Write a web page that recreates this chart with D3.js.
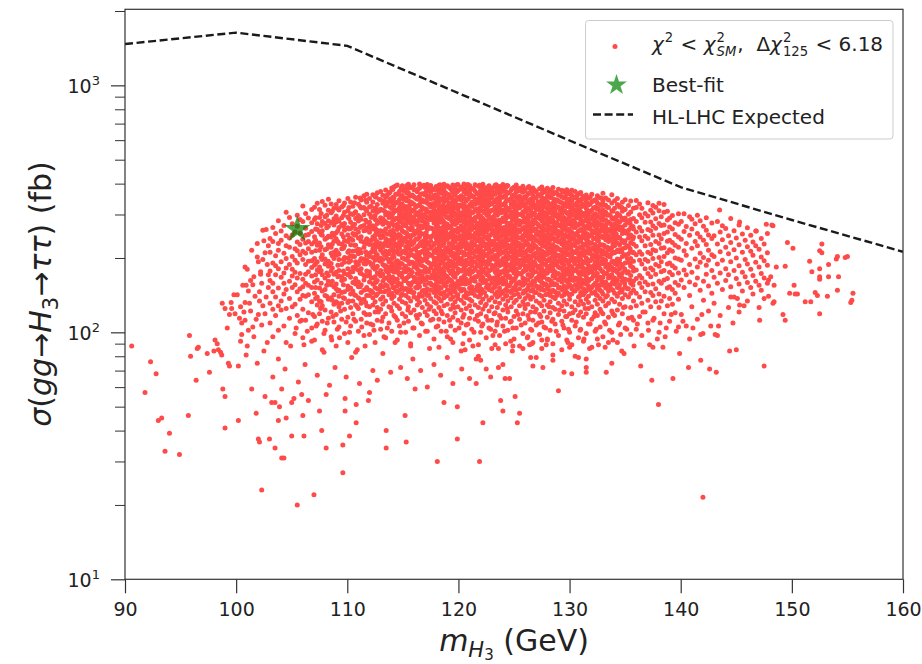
<!DOCTYPE html>
<html>
<head>
<meta charset="utf-8">
<script src="https://cdn.jsdelivr.net/npm/d3@7"></script>
<style>
body{margin:0;background:#fff;}
svg{display:block;font-family:"DejaVu Sans",sans-serif;}
text{white-space:pre;}
</style>
</head>
<body>
<script>
// HL-LHC expected limit (dashed line)
const limitMass = [90,100,110,120,130,140,150,160];
const limitXsec = [1470,1635,1445,930,598,387,285,212];

// best-fit point [m_H3 GeV, sigma fb]
const bestFit = [105.5, 261];

const xTicks = [90,100,110,120,130,140,150,160];
const yTicks = [10,100,1000];
const yTickExp = ["1","2","3"];
const yMinor = [20,30,40,50,60,70,80,90,200,300,400,500,600,700,800,900,2000];

// scan points, [mass, sigma]
const lowMassPoints = [
 [90.6,88],[91.8,57],[92.3,76],[92.8,68],[93.0,44],[93.3,45],[93.6,33],[94.0,39],[94.9,32],[95.7,46],
 [95.8,97],[95.9,80],[96.4,64],[96.5,86],[96.6,87],[97.4,82],[97.6,69],[98.1,93],[98.3,90],[98.0,84],
 [98.4,85],[98.6,83],[98.7,81],[98.8,59],[99.0,55],[99.0,41],[99.3,75],[99.4,73],[98.75,131],[99.0,125],
 [99.55,132],[99.6,125],[99.4,118],[99.9,119],[99.2,104],[99.8,142]
];
const risingEdgePoints = [
 [100.2,73],[100.2,44],[100.3,114],[100.5,109],[100.8,112],[100.6,155],[100.9,155],[100.8,132],[101.2,131],
 [100.8,184],[101.0,180],[101.9,202],[102.0,193],[102.2,176],[102.2,172],[102.7,261],[101.6,168],[101.5,156],
 [102.4,259],[101.4,59],[101.8,47],[101.9,75],[102.0,37],[102.1,36],[102.3,23],[102.6,55],[101.3,122],
 [101.7,140],[102.1,146],[102.4,128],[102.6,210],[102.5,235],[102.8,188],[101.1,102],[102.3,107],[100.1,142],
 [101.4,215],[102.9,152],[102.0,118],[100.4,92],[101.0,88],[101.6,96],[102.5,84],[100.9,81],[102.8,91],
 [100.4,127],[100.7,121],[101.1,147],[101.3,162],[101.8,113],[102.1,134],[102.3,158],[102.6,119],[102.9,171],
 [102.7,139],[100.5,98],[101.5,105],[102.4,197],[102.9,224],[101.9,229]
];
const lowTailPoints = [
 [103.0,37],[103.2,52],[103.5,52],[103.5,34],[103.8,44],[103.9,50],[104.1,31],[104.3,31],[104.1,59],[104.5,45],
 [105.0,38],[105.0,52],[105.2,54],[105.5,20],[105.9,56],[106.0,46],[106.1,38],[106.5,53],[107.0,22],[107.5,48],
 [107.7,40],[108.1,34],[108.1,56],[109.6,35],[109.6,27],[109.8,48],[109.8,54],[110.2,38],[110.8,43],[110.8,51],
 [111.9,53],[112.0,57],[113.5,40],[113.5,34],[115.2,46],[115.3,36],[116.1,59],[118.1,30],[118.7,52],[119.9,37],
 [119.9,50],[103.3,66],[103.8,78],[104.4,71],[104.9,88],[105.6,63],[106.2,74],[106.8,92],[107.3,67],[107.9,83],
 [108.4,61],[108.9,72],[109.3,95],[109.9,66],[110.4,79],[111.1,62],[111.6,88],[112.3,70],[112.7,64],[113.2,82],
 [113.9,69],[114.3,91],[114.8,72],[115.4,65],[115.9,78],[116.6,70],[117.2,60],[117.8,74],[118.4,67],[119.0,79],
 [119.5,62],[120.3,71],[120.4,90],[120.6,85],[121.0,65],[121.6,62],[121.6,78],[121.8,80],[121.9,30],[122.0,77],
 [122.2,43],[122.5,71],[122.9,66],[123.3,89],[123.6,86],[123.6,72],[123.8,53],[124.0,48],[124.0,74],[124.2,65],
 [124.6,65],[124.7,92],[124.9,88],[125.1,55],[125.3,43],[125.5,47],[125.8,86],[126.4,89],[126.6,90],[126.5,79],
 [126.7,73],[127.0,79],[127.5,93],[127.6,72],[128.0,93],[128.5,81],[128.5,77],[129.0,58],[129.5,69],[130.0,87],
 [130.2,68],[130.5,80],[130.8,79],[131.3,94],[131.5,69],[131.5,72],[131.5,78],[132.6,89],[133.2,87],[133.3,69],
 [133.5,91],[133.8,75],[134.6,98],[134.7,84],[134.9,82],[136.4,73],[137.2,89],[137.4,64],[137.5,87],[138.0,51],
 [138.4,87],[138.6,96],[139.3,65],[140.7,72],[140.8,94],[141.8,77],[141.8,98],[142.0,21.5],[143.2,69],[143.3,97],
 [144.4,84],[145.0,85],[147.5,73],[142.6,71]
];
const lowerBandPoints = [
 [105.4,104],[105.9,112],[106.4,101],[106.9,118],[107.2,106],[107.6,125],[107.9,99],[108.2,109],[108.7,116],[109.1,103],
 [109.4,122],[109.9,110],[110.2,100],[110.6,113],[110.9,127],[111.3,105],[111.7,118],[112.1,108],[112.4,102],[112.8,121],
 [113.1,111],[113.6,104],[113.9,126],[114.35,115],[114.8,100],[115.1,109],[115.45,123],[115.9,104],[116.2,117],[116.65,109],
 [117.05,101],[117.35,124],[117.7,113],[118.15,106],[118.55,119],[118.9,101],[119.2,112],[119.65,126],[120.05,104],[120.4,115],
 [120.85,108],[121.15,122],[121.4,100],[121.7,117],[122.1,106],[122.4,128],[122.65,112],[122.9,103],[123.2,119],[123.45,107],
 [123.85,114],[124.15,101],[124.4,125],[124.65,110],[124.9,104],[125.35,118],[125.65,107],[125.95,129],[126.35,113],[126.6,102],
 [126.9,121],[127.2,109],[127.4,116],[127.85,104],[128.15,127],[128.4,111],[128.8,101],[129.1,123],[129.4,107],[129.65,116],
 [129.9,103],[130.3,120],[130.6,110],[130.95,102],[131.4,125],[131.85,108],[132.2,116],[132.4,103],[132.85,121],[133.15,110],
 [133.6,102],[133.9,119],[134.4,107],[134.85,126],[135.15,103],[135.6,115],[136.1,108],[136.6,121],[137.1,102],[137.6,114],
 [138.15,109],[138.7,104],[139.15,118],[139.6,101],[140.2,111],[141.1,104],[141.9,118],[106.1,89],[108.6,93],[110.9,85],
 [113.3,96],[115.7,90],[117.4,86],[119.3,94],[121.3,88],[123.1,97],[124.85,84],[126.2,95],[127.9,89],[129.85,91],
 [131.8,86],[133.9,93],[135.8,88],[137.9,94],[139.9,82]
];
const highMassPoints = [
 [143.5,313],[147.7,274],[148.3,270],[149.6,231],[152.7,228],[152.5,214],[151.6,194],[151.8,176],[152.5,181],
 [153.3,188],[154.0,198],[154.8,201],[154.2,168],[153.3,168],[152.5,168],[152.5,164],[154.1,148],[153.2,140],
 [155.5,144],[155.4,135],[155.3,132],[152.1,145],[152.3,141],[151.2,133],[151.7,133],[152.5,119],[150.3,143],
 [149.8,144],[150.5,143],[150.2,155],[149.4,185],[148.6,184],[148.1,168],[147.9,163],[148.4,155],[148.4,133],
 [148.3,131],[147.9,140],[149.2,118],[149.4,112],[147.1,112],[144.7,109],[144.5,139],[145.1,137],[145.3,129],
 [145.7,128],[142.7,106],[143.4,106],[143.1,98],[142.0,99],[150.1,219],[152.7,210],[154.1,203],[155.0,203],
 [146.8,257],[145.3,280],[148.2,272]
];

// denser parts of the scan, read column by column: [mass, [sigma...]]
const edgeColumns = [
 [103.05,[109,131,162,177,211,240]],
 [103.3,[96,124,146,158,191,233,266]],
 [103.55,[117,139,171,186,204,251]],
 [103.8,[102,128,151,181,215,229,283]],
 [104.05,[123,134,167,193,236,257]],
 [104.3,[106,143,158,174,209,271]],
 [104.5,[91,125,149,182,199,224,246,306]],
 [104.8,[114,137,161,188,221,241,292]],
 [105.05,[127,152,169,180,203,248,275]],
 [105.3,[99,130,156,175,196,218,255]],
 [105.5,[117,146,166,191,214,232,269,298]],
 [105.75,[111,136,150,173,206,227,252,286]],
 [106.0,[95,124,141,153,164,197,213,238,281,325]],
 [106.25,[112,140,158,172,188,209,230,247,264,303]],
 [106.5,[120,142,155,176,194,218,233,249,290]],
 [106.8,[104,133,152,169,183,195,211,228,256,278,314]],
 [107.05,[93,116,144,160,187,199,232,244,286,321]],
 [107.3,[108,129,139,163,179,193,225,261,275,333]],
 [107.5,[119,134,151,176,184,215,230,255,292,314]],
 [107.75,[85,111,128,147,171,197,206,247,258,281,339]],
 [108.0,[102,123,141,149,166,189,198,216,238,276,294,327]],
 [108.3,[114,136,161,170,185,194,226,245,269,283,312,346]],
 [108.55,[96,121,138,156,177,190,209,221,243,279,305,331]],
 [108.8,[110,130,142,153,172,199,211,234,246,272,288,318]],
 [109.0,[88,118,133,150,157,175,205,215,239,253,280,296,329]],
 [109.25,[105,127,140,148,169,178,197,207,229,266,282,313,341]],
 [109.5,[113,131,145,162,168,188,218,228,250,273,291,322]],
 [109.75,[99,124,137,146,164,173,192,201,224,235,259,276,306,334]],
 [110.05,[91,115,132,149,154,171,181,200,211,233,248,265,293,311,348]],
 [110.3,[106,126,143,151,167,176,195,204,226,240,263,279,302,337]],
 [110.5,[119,134,147,159,176,183,203,213,236,251,270,300,324]],
 [110.75,[83,111,129,141,157,165,185,193,214,225,249,262,289,308,352]],
 [111.0,[101,125,138,153,160,179,188,208,217,241,255,282,297,330]],
 [111.25,[113,131,145,156,173,181,199,210,234,244,268,287,319,343]],
 [111.5,[97,120,136,148,163,170,190,198,221,231,258,271,299,320,357]],
 [111.75,[109,128,141,152,169,177,196,205,229,239,264,280,310,336,362]]
];
const edgeFillColumns = [
 [107.15,[137,152,171,190,214,236,262,291]],
 [107.65,[133,158,178,201,222,249,271,303]],
 [108.15,[140,155,174,193,218,241,265,298]],
 [108.65,[135,161,182,204,228,252,277,309]],
 [109.15,[131,147,168,187,210,233,258,286,317]],
 [109.65,[138,156,177,197,219,244,269,297,326]],
 [110.15,[134,151,172,192,214,238,262,289,320]],
 [110.65,[142,160,181,203,225,247,274,304,335]],
 [111.15,[136,153,174,195,216,240,266,292,323,350]],
 [111.65,[132,149,170,189,212,235,259,284,315,343]],
 [112.15,[147,166,188,211,236,263,292,324]],
 [112.6,[141,160,183,205,230,256,285,317,352]],
 [112.9,[150,172,195,221,248,279,311,345]],
 [113.35,[146,165,186,206,229,254,282,309,340]],
 [113.6,[154,176,199,224,250,277,304,333,361]]
];
const coreColumns = [
 [112.0,[98,118,127,141,148,160,171,176,192,203,209,227,235,254,271,279,301,322,348]],
 [112.3,[107,129,138,145,157,166,183,189,201,218,226,243,262,270,294,310,337,361]],
 [112.5,[91,121,133,152,159,168,180,196,212,219,238,247,266,287,297,318,355]],
 [112.7,[112,126,143,150,162,174,185,198,206,223,232,251,259,276,306,329,367]],
 [113.0,[103,124,136,146,155,169,178,194,200,215,229,241,258,283,291,315,344,372]],
 [113.2,[115,130,139,153,161,172,188,197,210,221,245,256,274,288,313,333,359]],
 [113.45,[95,119,134,147,156,166,179,186,205,213,231,239,262,280,299,324,352,377]],
 [113.75,[109,127,142,149,163,170,184,193,208,224,236,250,268,292,304,338,366]],
 [114.0,[101,122,137,144,158,165,181,190,199,216,228,246,255,277,295,317,341,384]],
 [114.2,[117,131,140,151,160,175,183,202,211,225,237,252,271,285,308,326,350,388]],
 [114.5,[93,112,128,145,154,164,177,187,195,214,222,242,261,274,289,311,335,362,395]],
 [114.7,[106,125,136,148,157,171,182,191,207,219,233,248,266,281,300,321,345,373]],
 [114.95,[119,133,143,152,167,174,189,200,212,230,239,257,278,293,316,331,358,392]],
 [115.25,[100,116,131,141,150,162,176,185,197,209,222,241,253,270,286,307,323,349,381]],
 [115.5,[111,127,138,146,158,168,180,194,203,220,229,247,263,284,298,319,340,368,398]],
 [115.7,[88,120,134,149,155,170,178,192,206,215,235,244,260,276,295,314,337,357,387]],
 [116.0,[104,123,139,145,161,167,184,190,204,217,231,249,258,280,291,312,330,354,378,396]],
 [116.3,[114,129,136,151,159,173,181,196,211,222,238,252,272,283,305,325,346,371]],
 [116.5,[97,118,132,143,153,165,177,188,201,208,227,243,256,269,293,302,328,351,383,399]],
 [116.75,[108,126,140,147,163,169,186,195,213,224,233,250,265,282,299,320,343,364,390]],
 [117.0,[121,135,144,156,164,175,183,199,207,221,240,248,267,279,301,316,339,360,386]],
 [117.2,[101,117,130,141,150,168,179,193,202,216,228,245,261,275,292,309,334,355,376,397]],
 [117.5,[112,127,137,148,158,166,182,189,205,219,234,242,264,286,297,322,347,369,393]],
 [117.8,[94,122,133,145,155,171,176,191,200,213,226,251,259,277,290,313,332,358,380]],
 [118.0,[105,119,131,140,146,157,163,172,184,188,199,210,217,231,240,253,268,276,294,305,327,342,361,389]],
 [118.25,[87,113,126,137,149,153,167,178,187,196,204,222,228,244,258,265,285,299,316,335,350,372,394]],
 [118.45,[101,122,134,143,151,162,170,180,192,201,213,224,236,249,262,281,290,311,320,344,366,385]],
 [118.7,[110,128,138,145,156,165,176,183,197,207,214,230,241,255,271,279,302,313,338,355,377,398]],
 [119.0,[96,117,130,141,148,160,168,182,189,200,211,220,238,247,264,274,292,307,325,347,362,392]],
 [119.3,[106,124,136,144,154,163,174,186,194,206,216,227,243,252,269,287,297,318,332,353,381]],
 [119.5,[91,115,129,139,150,158,171,179,191,203,209,225,234,250,260,277,296,309,329,340,369,395]],
 [119.7,[102,120,133,146,152,167,173,185,198,208,219,232,245,257,273,284,303,322,337,359,383]],
 [119.95,[112,127,137,142,155,161,175,181,195,202,215,223,239,254,263,283,293,314,328,350,374,397]],
 [120.25,[84,109,123,135,147,157,166,177,189,199,212,221,235,246,259,270,290,300,324,343,357,388]],
 [120.5,[99,118,131,140,149,162,169,184,193,205,210,229,237,253,267,280,298,316,331,349,371,399]],
 [120.7,[107,125,138,145,158,164,178,187,196,207,218,231,248,256,272,288,306,319,340,363,384]],
 [121.0,[93,114,128,136,151,159,172,180,190,201,214,226,242,251,266,278,295,311,327,352,368,393]],
 [121.2,[103,121,134,144,153,166,175,186,199,209,219,233,244,261,275,286,304,323,336,358,380]],
 [121.5,[113,129,141,148,161,168,181,192,203,213,225,240,252,265,282,292,314,330,346,373,396]],
 [121.8,[89,111,126,139,147,156,170,176,188,197,211,222,236,247,263,276,299,308,333,348,365,390]],
 [122.0,[100,119,132,143,150,163,173,184,195,206,216,230,238,257,268,287,296,320,339,354,378]],
 [122.2,[108,124,136,146,159,167,178,189,200,212,224,234,249,260,277,289,310,326,343,367,398]],
 [122.5,[95,116,130,140,152,162,174,183,193,205,218,228,243,255,270,283,303,315,336,359,385]],
 [122.75,[104,122,135,149,155,169,177,190,198,210,221,237,246,264,273,294,305,328,345,370,392]],
 [123.0,[86,112,127,138,147,158,165,180,187,202,211,226,233,251,261,280,291,312,331,350,375]],
 [123.3,[101,120,133,143,153,163,176,185,197,204,219,229,245,258,271,285,301,321,338,362,394]],
 [123.5,[110,126,139,146,160,168,179,191,201,215,223,239,250,267,279,298,309,334,347,381]],
 [123.7,[97,117,131,141,151,164,172,186,194,207,217,232,242,256,274,284,306,318,341,364,389]],
 [124.0,[106,123,136,144,157,166,175,188,199,212,222,235,253,262,281,290,313,329,352,372,397]],
 [124.25,[90,114,129,140,149,161,171,182,192,203,214,228,240,254,266,288,299,324,337,357,386]],
 [124.45,[102,121,134,147,154,167,177,187,198,209,225,236,248,263,275,293,310,317,344,366,392]],
 [124.75,[111,127,138,145,159,165,180,189,202,213,220,238,251,268,278,297,304,330,348,377]],
 [125.0,[94,116,132,142,152,162,174,185,195,206,218,231,243,257,270,286,302,322,339,361,387]],
 [125.2,[104,122,135,148,156,169,178,190,200,211,224,233,249,260,277,291,311,326,353,370,395]],
 [125.5,[88,113,128,139,150,160,173,183,196,208,215,229,241,255,272,283,300,319,335,356,383]],
 [125.8,[99,119,133,144,155,166,176,188,197,212,221,237,246,264,279,296,307,331,344,369,390]],
 [126.0,[109,125,137,146,158,164,181,186,201,210,226,234,252,261,280,289,312,325,349,374]],
 [126.25,[96,117,130,141,151,163,171,184,194,204,216,228,244,256,269,287,298,318,340,362,386]],
 [126.5,[103,121,136,147,157,168,179,189,199,213,223,239,247,266,276,295,308,329,346,380]],
 [126.7,[91,112,127,139,149,161,174,182,193,205,218,230,242,258,273,284,304,321,338,358,384]],
 [127.0,[107,124,134,145,154,165,176,187,200,209,222,236,250,262,278,292,314,327,351,371]],
 [127.3,[98,118,131,142,153,162,172,185,196,206,217,231,245,254,270,289,301,320,336,360,381]],
 [127.5,[86,110,128,140,150,159,170,181,191,203,214,227,240,257,267,282,297,316,343,365,388]],
 [127.7,[105,122,135,148,156,167,177,188,198,211,224,234,249,263,275,294,306,332,347,377]],
 [128.0,[94,115,129,143,152,164,174,183,195,207,219,229,243,259,272,286,302,319,339,356,383]],
 [128.25,[102,120,133,141,155,162,178,186,199,210,221,237,248,261,279,290,312,326,352,372]],
 [128.5,[90,113,126,139,148,158,169,180,192,202,215,226,239,253,268,284,298,315,334,362,386]],
 [128.7,[108,124,137,146,157,166,176,189,197,212,222,235,251,265,276,295,309,330,344,368]],
 [129.0,[97,118,131,144,151,163,173,184,194,205,218,232,246,256,271,288,300,321,341,359,380]],
 [129.3,[85,111,128,140,149,160,170,182,191,204,213,228,238,255,266,283,303,318,335,354,375]],
 [129.5,[104,122,134,142,154,167,175,187,200,209,221,236,247,262,277,292,311,325,350,370]],
 [129.75,[93,116,130,145,152,161,172,181,196,206,216,230,244,258,273,286,305,323,337,363,378]],
 [130.0,[100,119,136,141,156,165,177,186,194,208,220,234,249,260,275,294,307,329,346,367]],
 [130.2,[89,112,127,143,150,163,171,183,197,203,214,227,241,254,270,282,301,316,339,358,376]],
 [130.5,[106,123,133,147,155,166,179,189,199,211,224,236,250,266,278,297,313,327,352,372]],
 [130.8,[95,117,129,139,151,160,174,185,195,207,219,231,245,257,272,290,304,322,344,364]],
 [131.0,[103,121,134,145,153,164,176,184,197,210,221,235,243,261,276,287,308,326,341,368]],
 [131.25,[92,115,130,142,150,162,172,182,193,205,216,228,248,255,271,296,303,331,356]],
 [131.5,[99,119,136,147,157,168,178,191,200,212,225,238,251,265,283,292,317,336,360]],
 [131.7,[108,125,132,140,154,161,174,187,196,209,220,233,244,263,279,298,310,328,349]],
 [132.0,[87,113,127,144,152,165,176,183,198,206,218,230,247,258,274,289,312,338,362]],
 [132.3,[101,120,135,146,158,169,180,192,201,214,227,240,253,269,286,302,321,344]],
 [132.5,[94,117,130,141,151,163,173,185,195,211,222,236,249,262,280,296,315,334,357]],
 [132.75,[105,124,137,148,156,167,181,189,203,216,226,243,256,273,291,307,329,351]]
];
// extra points packed in the solid middle of the core
const coreFillColumns = [
 [114.1,[153,167,186,204,219,241,259,284,303,329,352,379]],
 [114.6,[158,174,193,208,226,249,268,290,314,338,366]],
 [115.1,[149,162,181,199,213,236,255,272,297,318,345,374]],
 [115.6,[156,171,189,207,224,243,262,281,304,327,356,385]],
 [116.15,[152,165,184,201,218,238,256,276,299,321,349,377]],
 [116.6,[160,176,195,211,230,251,270,294,311,336,362,389]],
 [117.1,[147,163,180,196,214,234,253,273,291,315,342,371]],
 [117.6,[155,170,187,205,222,245,264,286,306,331,353,383]],
 [118.1,[151,168,182,198,216,233,252,271,288,309,333,358,380]],
 [118.6,[159,173,191,209,227,246,265,284,303,326,347,372]],
 [119.15,[148,164,178,195,212,229,249,267,289,312,334,361,387]],
 [119.6,[154,169,186,203,221,240,258,278,299,318,343,366]],
 [120.1,[150,161,179,194,210,228,245,263,282,305,327,352,379]],
 [120.6,[157,172,189,206,223,242,261,281,301,323,346,374]],
 [121.1,[146,163,176,192,209,225,244,262,285,307,329,357,384]],
 [121.65,[153,168,185,201,217,235,254,273,293,316,338,363]],
 [122.1,[149,165,181,197,213,232,250,269,290,311,334,360,388]],
 [122.6,[156,171,188,204,222,239,259,277,297,320,344,369]],
 [123.15,[151,166,183,199,216,234,252,272,294,313,336,362,386]],
 [123.6,[158,174,190,207,225,244,263,283,303,327,350,376]],
 [124.1,[147,162,178,195,211,230,248,266,287,308,331,355,381]],
 [124.6,[154,169,185,202,219,237,257,276,296,318,342,367]],
 [125.1,[150,165,181,198,215,233,251,270,291,312,337,359,384]],
 [125.65,[157,172,188,205,223,241,260,280,301,324,346,373]],
 [126.1,[148,163,179,196,213,231,249,268,289,309,332,356]],
 [126.6,[155,170,186,203,220,239,258,278,298,320,343,368]],
 [127.15,[151,167,183,200,217,235,254,273,293,315,338,361]],
 [127.6,[158,173,190,206,224,243,262,282,303,326,349,374]],
 [128.1,[149,164,180,197,214,232,250,269,290,311,333,358]],
 [128.6,[156,171,187,204,221,240,259,279,299,321,345,367]],
 [129.15,[152,166,182,199,216,234,253,272,292,313,336,360]],
 [129.6,[147,163,179,195,212,230,248,267,288,309,331,354]],
 [130.1,[154,169,185,202,219,237,256,275,296,318,341,363]],
 [130.65,[150,165,181,198,215,233,252,271,291,312,335,357]],
 [131.1,[157,172,188,205,222,241,260,280,301,323,347]],
 [131.6,[149,164,180,197,214,232,250,269,289,310,333]],
 [132.15,[155,170,186,203,220,239,257,277,298,319,340]],
 [132.6,[151,167,183,200,217,235,254,273,294,316]],
 [133.1,[158,174,190,207,225,244,263,284,305,328]],
 [133.65,[153,168,185,202,219,238,257,276,298]],
 [134.2,[160,177,194,212,231,250,271,293]]
];
const coreFillColumns2 = [
 [113.85,[143,161,177,196,214,233,256,275,298,322,347,370]],
 [114.35,[147,164,182,193,211,228,247,271,289,313,336,362,391]],
 [114.85,[141,157,173,190,209,226,244,265,286,306,330,355,384]],
 [115.35,[150,166,178,197,216,232,251,278,295,317,341,366,393]],
 [115.85,[145,159,175,192,206,227,248,267,285,309,334,360,386]],
 [116.4,[139,156,172,189,205,223,241,262,283,303,326,352,381]],
 [116.9,[148,162,177,198,215,230,250,270,293,315,337,364,394]],
 [117.35,[142,158,176,191,208,227,243,266,286,306,329,356,382]],
 [117.85,[151,165,179,194,212,229,247,261,282,301,324,349,377]],
 [118.35,[144,160,175,190,207,222,242,260,279,300,322,345,371,396]],
 [118.85,[140,154,170,188,203,220,237,256,276,296,317,341,367,390]],
 [119.4,[146,161,176,192,207,224,243,261,282,303,324,349,376]],
 [119.85,[141,157,173,189,205,221,238,259,277,297,319,344,370,395]],
 [120.35,[149,163,178,195,211,227,244,265,284,305,329,353,381]],
 [120.85,[143,158,174,190,206,222,241,258,279,298,321,347,372,397]],
 [121.35,[147,162,177,193,210,228,246,267,286,306,330,354,382]],
 [121.9,[140,155,172,187,204,220,239,257,276,296,318,342,368,394]],
 [122.35,[145,160,175,192,208,225,243,262,283,304,325,350,377]],
 [122.85,[149,164,179,196,213,229,247,268,288,309,332,357,383]],
 [123.4,[142,157,173,189,205,222,240,259,278,299,320,345,371,396]],
 [123.85,[146,161,176,193,209,226,245,264,284,305,328,352,380]],
 [124.35,[141,156,171,188,204,221,238,257,277,297,319,343,369,393]],
 [124.85,[148,163,178,194,211,228,246,265,287,307,330,355,382]],
 [125.35,[143,158,174,190,206,223,242,260,280,301,323,347,374]],
 [125.9,[147,162,177,193,210,227,245,266,285,306,329,352,379]],
 [126.35,[140,155,171,187,203,220,238,257,276,296,318,341,366,389]],
 [126.85,[145,160,176,192,208,225,243,262,282,303,326,350,376]],
 [127.4,[149,164,179,195,212,229,247,267,288,308,331,356,381]],
 [127.85,[142,157,173,189,206,222,240,259,279,299,321,344,369]],
 [128.35,[146,161,177,193,209,226,245,264,284,305,327,351,378]],
 [128.85,[141,156,172,188,204,221,239,258,278,298,320,343,366]],
 [129.4,[148,163,178,194,211,228,246,265,286,306,329,352,374]],
 [129.9,[143,158,174,190,207,223,242,261,281,301,323,347,370]],
 [130.4,[147,162,177,193,210,227,245,266,285,305,327,350]],
 [130.9,[140,155,171,187,203,220,238,257,276,296,318,340,363]],
 [131.35,[145,160,176,192,208,225,243,262,282,303,325,348]],
 [131.85,[149,164,179,195,212,229,247,267,287,308,330,352]],
 [132.4,[142,157,173,189,206,222,240,259,279,299,320,342]],
 [132.9,[146,161,177,193,209,226,245,264,284,305,326,349]],
 [133.4,[141,156,172,188,204,221,239,258,278,298,321]],
 [133.9,[148,163,178,194,211,228,246,265,287,309]],
 [134.45,[152,171,193,216,241,268,297,326]],
 [134.7,[146,167,188,212,236,262,290,320]],
 [134.95,[158,181,205,230,257,285,314]],
 [135.2,[150,174,199,224,251,279]],
 [135.45,[163,190,218,247,276]],
 [135.7,[155,183,211,239,268]]
];
const shoulderColumns = [
 [133.0,[96,119,134,143,155,167,176,190,198,214,225,242,257,272,296,313,340,366]],
 [133.25,[108,128,139,151,160,173,184,196,210,221,237,252,268,285,306,327,350]],
 [133.5,[115,131,147,155,166,179,188,205,215,233,246,261,280,299,320,343]],
 [133.8,[100,122,136,149,158,171,183,193,208,220,236,254,270,290,311,334,361]],
 [134.05,[117,133,144,157,166,180,190,210,224,238,257,275,291,318,341]],
 [134.3,[91,123,140,152,162,175,187,198,215,230,244,263,282,303,329,348]],
 [134.5,[109,130,145,156,168,181,197,212,226,242,260,280,297,322]],
 [134.75,[119,137,149,161,174,186,203,218,232,251,267,285,309,336]],
 [135.0,[104,127,142,153,164,178,191,206,220,235,253,272,290,315,344]],
 [135.3,[114,139,150,163,176,192,208,223,241,259,283,301,326]],
 [135.5,[98,126,144,158,170,185,199,213,231,248,265,286,307,340]],
 [135.75,[112,134,148,161,177,194,210,228,243,262,289,318]],
 [136.0,[103,128,144,165,179,206,223,255,281,320,342]],
 [136.3,[116,139,158,170,196,212,243,266,299,331]],
 [136.5,[97,131,152,166,189,207,235,257,291,318]],
 [136.8,[121,146,160,181,197,224,245,279,303]],
 [137.05,[109,135,156,173,194,211,240,261,296,335]],
 [137.3,[127,145,168,182,208,227,258,280,312]],
 [137.5,[112,141,157,179,199,216,247,270,304,326]],
 [137.75,[133,150,172,188,214,233,264,288,321]],
 [138.05,[100,126,143,161,185,201,229,248,276,311,333]],
 [138.25,[134,158,176,193,219,239,271,294]],
 [138.5,[119,140,163,178,203,220,251,272,306,329]],
 [138.8,[128,151,165,189,210,234,255,285,309]],
 [139.0,[111,137,153,175,191,216,236,267,290]],
 [139.25,[130,149,171,186,213,231,262,297]],
 [139.5,[120,144,159,182,200,225,249,278]],
 [139.8,[105,136,155,174,198,221,243,274,302]],
 [140.05,[118,163,196,238,281]],
 [140.3,[152,179,214,256,302]],
 [140.5,[106,171,205,229,268]],
 [140.8,[141,160,188,247,294]],
 [141.0,[127,175,219,262,287]],
 [141.3,[156,198,233,275]],
 [141.5,[113,166,184,224,251,298]],
 [141.75,[148,192,209,243,283]],
 [142.05,[135,161,201,236,269]],
 [142.3,[172,187,227,259,291]],
 [142.5,[122,154,196,215,248]],
 [142.8,[144,178,206,240,277]],
 [143.0,[131,167,203,246]],
 [143.3,[158,189,228,281]],
 [143.55,[117,174,212,255]],
 [143.75,[149,196,237,270]],
 [144.05,[162,181,221,263]],
 [144.3,[126,171,208,246]],
 [144.5,[153,193,231,289]],
 [144.8,[139,178,216,258]],
 [145.0,[165,200,241]],
 [145.25,[121,157,186,226,272]],
 [145.55,[147,175,211,250]],
 [145.8,[168,197,236]],
 [146.0,[134,159,189,222,265]],
 [146.3,[152,180,213,247]],
 [146.5,[143,170,205,232]],
 [146.75,[161,192,224,257]],
 [147.05,[126,155,184,217]],
 [147.25,[148,173,202,240]],
 [147.5,[137,166,195,228]],
 [147.8,[158,187,210,251]]
];


function starPath(R){
	const pts = [];
	for(let k=0;k<10;k++){
		const r = k%2 ? R*0.382 : R;
		const a = -Math.PI/2 + k*Math.PI/5;
		pts.push([r*Math.cos(a), r*Math.sin(a)]);
	}
	return "M"+pts.map(p=>p[0].toFixed(2)+","+p[1].toFixed(2)).join("L")+"Z";
}

// lays out a mathtext-like label inside one text element, returns its width
function mathText(parent, parts, size){
	const t = parent.append("text");
	let cx = 0;
	parts.forEach(p=>{
		if(p.t!==undefined){
			const s = t.append("tspan")
				.attr("x",cx).attr("y",p.dy||0)
				.attr("font-size",p.size||size)
				.attr("font-style",p.it?"italic":"normal")
				.text(p.t);
			cx += s.node().getComputedTextLength();
		} else {
			let w = 0;
			if(p.sup){
				const s = t.append("tspan").attr("x",cx+1).attr("y",-size*0.45)
					.attr("font-size",size*0.66).attr("font-style","normal").text(p.sup);
				w = Math.max(w,s.node().getComputedTextLength());
			}
			if(p.sub){
				const s = t.append("tspan").attr("x",cx+1).attr("y",size*0.27)
					.attr("font-size",size*0.66).attr("font-style",p.subIt?"italic":"normal").text(p.sub);
				w = Math.max(w,s.node().getComputedTextLength());
			}
			cx += w+2;
		}
	});
	return {node:t, width:cx};
}

function drawGraph(){
	const width = 922;
	const height = 664;
	const margin = {top:9.3,left:125};
	const innerWidth = 778;
	const innerHeight = 570;

	const svg = d3.select("body").append("svg")
		.attr("width",width)
		.attr("height",height);
	svg.append("rect").attr("width",width).attr("height",height).attr("fill","#fff");

	const g = svg.append("g")
		.attr("transform","translate("+margin.left+","+margin.top+")");

	const x = d3.scaleLinear().domain([90,160]).range([0,innerWidth]);
	const y = d3.scaleLog().domain([10,2032]).range([innerHeight,0]);

	g.append("clipPath").attr("id","plotClip")
		.append("rect").attr("width",innerWidth).attr("height",innerHeight);
	const plot = g.append("g").attr("clip-path","url(#plotClip)");

	const columnPoints = edgeColumns.concat(edgeFillColumns,coreColumns,coreFillColumns,coreFillColumns2,shoulderColumns)
		.flatMap(c=>c[1].map(s=>[c[0],s]));
	const points = lowMassPoints.concat(risingEdgePoints,lowTailPoints,lowerBandPoints,highMassPoints,columnPoints);

	//scan points
	plot.selectAll(".pt")
		.data(points)
		.enter().append("circle")
			.attr("class","pt")
			.attr("cx",d=>x(d[0]))
			.attr("cy",d=>y(d[1]))
			.attr("r",2.5)
			.attr("fill","#ff4a4a");

	//best fit
	plot.append("path")
		.attr("d",starPath(14))
		.attr("transform","translate("+x(bestFit[0])+","+y(bestFit[1])+")")
		.attr("fill","green")
		.attr("fill-opacity",0.7);

	//HL-LHC line
	const line = d3.line().x(d=>x(d[0])).y(d=>y(d[1]));
	plot.append("path")
		.datum(d3.zip(limitMass,limitXsec))
		.attr("d",line)
		.attr("fill","none")
		.attr("stroke","#1a1a1a")
		.attr("stroke-width",2.4)
		.attr("stroke-dasharray","8,3.6");

	//x-axis
	const xAxis = g.append("g")
		.attr("transform","translate(0,"+innerHeight+")")
		.call(d3.axisBottom(x).tickValues(xTicks).tickSize(14).tickPadding(9).tickFormat(d3.format("d")));
	xAxis.attr("font-size",19).attr("font-family","DejaVu Sans");
	xAxis.select(".domain").remove();
	xAxis.selectAll("line").attr("stroke","#333").attr("stroke-width",1.2);
	xAxis.selectAll("text").attr("fill","#222");

	//y-axis
	const yAxis = g.append("g")
		.call(d3.axisLeft(y).tickValues(yTicks).tickSize(14).tickFormat(""));
	yAxis.select(".domain").remove();
	yAxis.selectAll("line").attr("stroke","#333").attr("stroke-width",1.2);
	const yMinorAxis = g.append("g")
		.call(d3.axisLeft(y).tickValues(yMinor).tickSize(10).tickFormat(""));
	yMinorAxis.select(".domain").remove();
	yMinorAxis.selectAll("line").attr("stroke","#333").attr("stroke-width",1);

	yTicks.forEach((v,i)=>{
		const t = g.append("text")
			.attr("x",-25).attr("y",y(v)+7.5)
			.attr("text-anchor","end")
			.attr("font-size",19)
			.attr("fill","#222");
		t.append("tspan").text("10");
		t.append("tspan").attr("dy",-8).attr("font-size",13).text(yTickExp[i]);
	});

	//frame
	g.append("rect")
		.attr("width",innerWidth).attr("height",innerHeight)
		.attr("fill","none").attr("stroke","#333").attr("stroke-width",1.2);

	getLabels(svg);
	getLegend(svg);
}

function getLabels(svg){
	const xl = mathText(svg,[
		{t:"m",it:true},
		{t:"H",it:true,size:21,dy:6},
		{t:"3",size:15,dy:9},
		{t:" (GeV)"}
	],30);
	xl.node.attr("fill","#222").attr("transform","translate("+(514-xl.width/2)+",651)");

	const yl = mathText(svg,[
		{t:"σ",it:true},
		{t:"("},
		{t:"gg",it:true},
		{t:"→"},
		{t:"H",it:true},
		{t:"3",size:21,dy:7},
		{t:"→"},
		{t:"ττ",it:true},
		{t:")"},
		{t:" (fb)"}
	],30);
	yl.node.attr("fill","#222").attr("transform","translate(51,294) rotate(-90) translate("+(-yl.width/2)+",0)");
}

function getLegend(svg){
	const lg = svg.append("g");
	lg.append("rect")
		.attr("x",585.5).attr("y",20.5)
		.attr("width",307.5).attr("height",118.5)
		.attr("rx",3)
		.attr("fill","#fff").attr("fill-opacity",0.8)
		.attr("stroke","#cccccc");

	lg.append("circle").attr("cx",615).attr("cy",46.5).attr("r",2.5).attr("fill","#ff4a4a");
	const l1 = mathText(lg,[
		{t:"χ",it:true},
		{sup:"2"},
		{t:" < "},
		{t:"χ",it:true},
		{sup:"2",sub:"SM",subIt:true},
		{t:",  "},
		{t:"Δ"},
		{t:"χ",it:true},
		{sup:"2",sub:"125"},
		{t:" < 6.18"}
	],20);
	l1.node.attr("fill","#222").attr("transform","translate(652,50.5)");

	lg.append("path")
		.attr("d",starPath(11))
		.attr("transform","translate(616.5,85)")
		.attr("fill","green").attr("fill-opacity",0.7);
	lg.append("text").attr("x",652).attr("y",92).attr("font-size",20).attr("fill","#222").text("Best-fit");

	lg.append("line")
		.attr("x1",593).attr("x2",633).attr("y1",114.5).attr("y2",114.5)
		.attr("stroke","#1a1a1a").attr("stroke-width",2.4).attr("stroke-dasharray","8,3.6");
	lg.append("text").attr("x",652).attr("y",124).attr("font-size",20).attr("fill","#222").text("HL-LHC Expected");
}

drawGraph();
</script>
</body>
</html>
